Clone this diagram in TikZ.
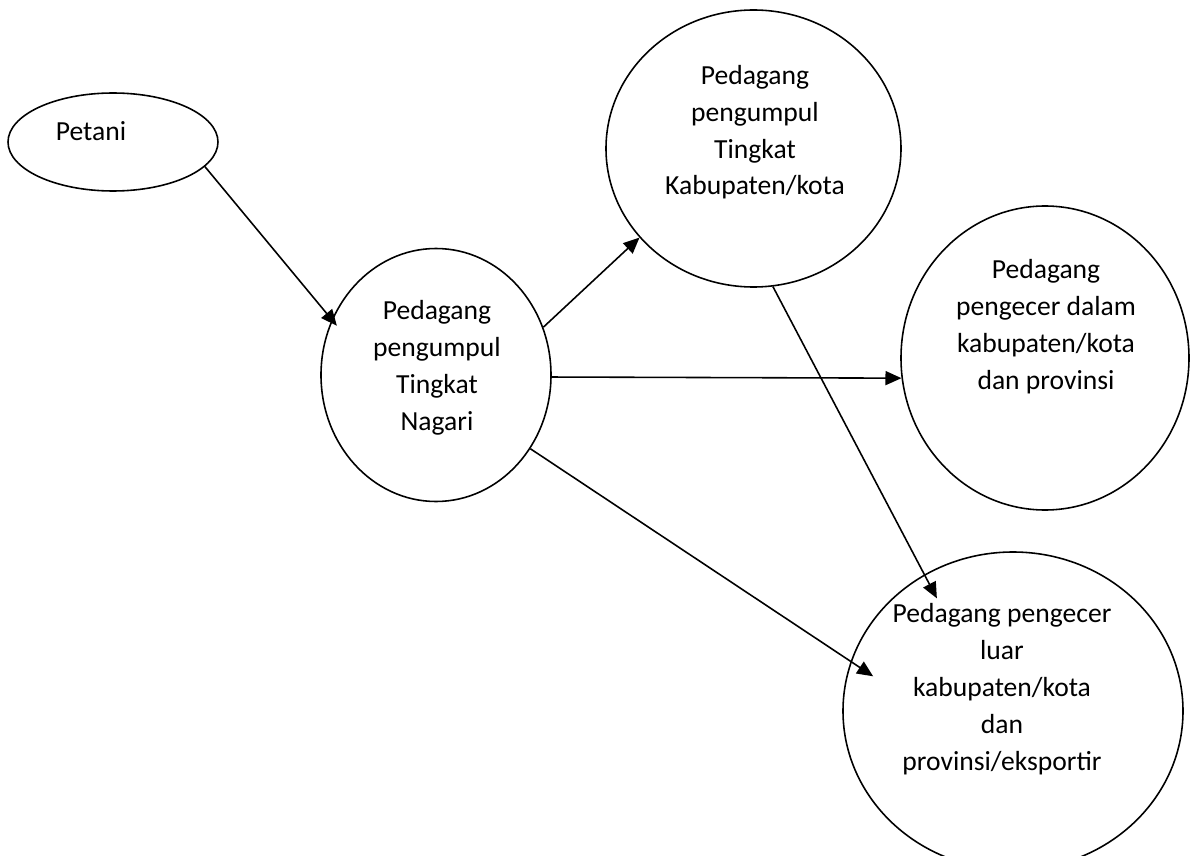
\documentclass[tikz,border=0pt]{standalone}
\usepackage{fontspec}
\setmainfont{Carlito}
\usetikzlibrary{arrows.meta,shapes.geometric}

\begin{document}
\begin{tikzpicture}[
  bubble/.style={draw=black, ellipse, line width=0.9pt, inner sep=0pt},
  lbl/.style={font=\fontsize{15.7pt}{21pt}\selectfont, align=center, inner sep=0pt, anchor=base},
  flow/.style={-{Triangle[length=0.32cm, width=0.28cm]}, line width=0.9pt},
]
  \useasboundingbox (0,0) rectangle (23.8,-17.12);

  % pelaku tata niaga
  \node[bubble, minimum width=4.2cm,  minimum height=1.96cm] (petani)  at (2.26,-2.84)  {};
  \node[bubble, minimum width=4.6cm,  minimum height=5.06cm] (nagari)  at (8.72,-7.5)   {};
  \node[bubble, minimum width=5.9cm,  minimum height=5.54cm] (kabkota) at (15.07,-2.97) {};
  \node[bubble, minimum width=5.76cm, minimum height=6.08cm] (dalam)   at (20.9,-7.16)  {};
  \node[bubble, minimum width=6.8cm,  minimum height=6.36cm] (luar)    at (20.26,-14.22) {};

  % teks (anchor base = baris terakhir)
  \node[lbl] (tpetani) at (1.82,-2.82)  {Petani};
  \node[lbl] (tnagari) at (8.74,-8.6)   {Pedagang\\pengumpul\\Tingkat\\Nagari};
  \node[lbl] (tkab)    at (15.1,-3.9)   {Pedagang\\pengumpul\\Tingkat\\Kabupaten/kota};
  \node[lbl] (tdalam)  at (20.92,-7.78) {Pedagang\\pengecer dalam\\kabupaten/kota\\dan provinsi};
  \node[lbl] (tluar)   at (20.04,-15.4) {Pedagang pengecer\\luar\\kabupaten/kota\\dan\\provinsi/eksportir};

  % alur pemasaran
  \draw[flow, shorten >=-0.16cm] (petani.-15.7) -- (nagari.152.6);
  \draw[flow] (nagari.24.4) -- (kabkota.-142.7);
  \draw[flow] (nagari.-1.4) -- (dalam.188.4);
  \draw[flow, shorten >=-0.54cm] (nagari.-38.6) -- (luar.163.1);
  \draw[flow, shorten >=-0.54cm] (kabkota.-82) -- (luar.123.4);
\end{tikzpicture}
\end{document}
